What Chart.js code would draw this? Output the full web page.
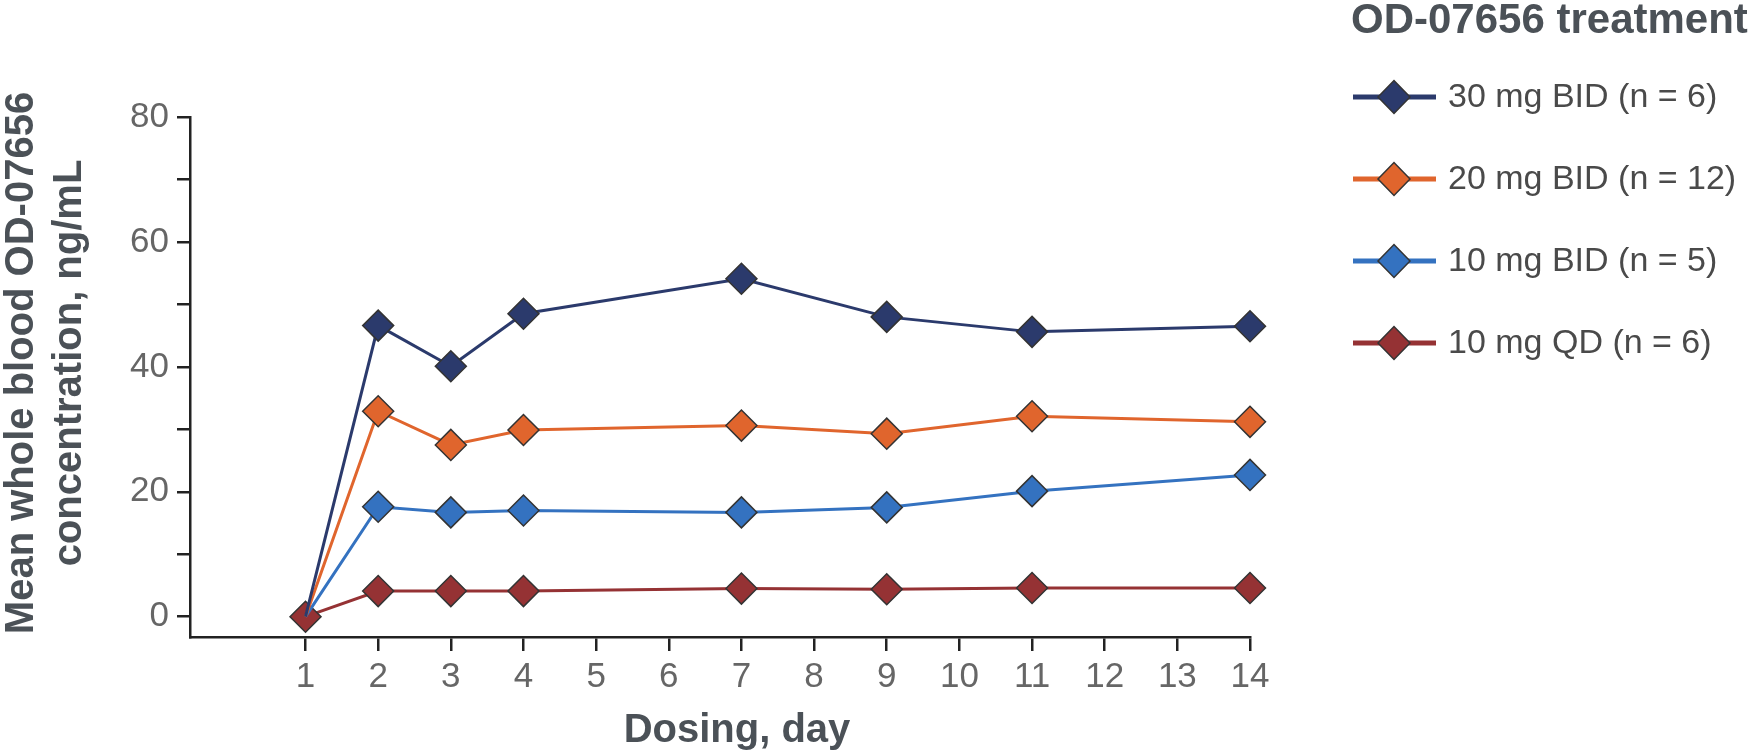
<!DOCTYPE html>
<html>
<head>
<meta charset="utf-8">
<script src="https://cdn.jsdelivr.net/npm/chart.js@4.4.1/dist/chart.umd.min.js"></script>
<style>
  html, body { margin: 0; padding: 0; background: #fff; }
</style>
</head>
<body>
<canvas id="pkChart" width="1750" height="753"></canvas>
<script>
// dosing days that were sampled
const days = [1, 2, 3, 4, 7, 9, 11, 14];
const xTicks = [1, 2, 3, 4, 5, 6, 7, 8, 9, 10, 11, 12, 13, 14];
const yTicks = [0, 10, 20, 30, 40, 50, 60, 70, 80];

// mean whole blood concentration, ng/mL
const bid30 = [0, 46.6, 40.1, 48.5, 54.1, 48.0, 45.6, 46.5];
const bid20 = [0, 32.9, 27.5, 29.9, 30.6, 29.3, 32.1, 31.2];
const bid10 = [0, 17.6, 16.7, 17.0, 16.7, 17.5, 20.1, 22.7];
const qd10 = [0, 4.1, 4.1, 4.1, 4.5, 4.4, 4.6, 4.6];

const seriesNames = ['30 mg BID (n = 6)', '20 mg BID (n = 12)', '10 mg BID (n = 5)', '10 mg QD (n = 6)'];
const seriesColors = ['#2b3a6c', '#e0652d', '#3472c0', '#953234'];
const seriesValues = [bid30, bid20, bid10, qd10];

const legendTitle = 'OD-07656 treatment';
const yTitle = ['Mean whole blood OD-07656', 'concentration, ng/mL'];
const xTitle = 'Dosing, day';

const FONT = '"Liberation Sans", Arial, sans-serif';
const AXIS_COLOR = '#222';
const TITLE_COLOR = '#4b5157';

const datasets = seriesValues.map((vals, i) => ({
  label: seriesNames[i],
  data: vals.map((v, j) => ({ x: days[j], y: v })),
  borderColor: seriesColors[i],
  backgroundColor: seriesColors[i],
  borderWidth: 3,
  pointStyle: 'rectRot',
  // only the QD marker shows at day 1, the other lines start under it
  pointRadius: vals.map((v, j) => (j === 0 && i < 3 ? 0 : 15.5)),
  pointHoverRadius: 15.5,
  pointBorderColor: '#333',
  pointBorderWidth: 1.5,
  pointBackgroundColor: seriesColors[i],
  tension: 0,
  clip: false
}));

// axis titles and legend are drawn by hand
const textPlugin = {
  id: 'textPlugin',
  afterDraw(chart) {
    const ctx = chart.ctx;
    ctx.save();
    ctx.fillStyle = TITLE_COLOR;
    ctx.textBaseline = 'alphabetic';

    // y axis title, two rotated lines
    ctx.font = 'bold 40px ' + FONT;
    ctx.textAlign = 'center';
    ctx.translate(0, 363);
    ctx.rotate(-Math.PI / 2);
    ctx.fillText(yTitle[0], 0, 33);
    ctx.fillText(yTitle[1], 0, 81);
    ctx.setTransform(1, 0, 0, 1, 0, 0);

    // x axis title
    ctx.fillText(xTitle, 737, 742);

    // legend
    ctx.textAlign = 'left';
    ctx.font = 'bold 42px ' + FONT;
    ctx.fillText(legendTitle, 1351, 33);

    const rowY = [97, 179, 261, 343];
    ctx.font = '34px ' + FONT;
    chart.data.datasets.forEach((ds, i) => {
      const y = rowY[i];
      ctx.strokeStyle = ds.borderColor;
      ctx.lineWidth = 5;
      ctx.beginPath();
      ctx.moveTo(1353, y);
      ctx.lineTo(1436, y);
      ctx.stroke();

      ctx.beginPath();
      ctx.moveTo(1378, y);
      ctx.lineTo(1394, y - 16.5);
      ctx.lineTo(1410, y);
      ctx.lineTo(1394, y + 16.5);
      ctx.closePath();
      ctx.fillStyle = ds.backgroundColor;
      ctx.fill();
      ctx.lineWidth = 1.5;
      ctx.strokeStyle = '#333';
      ctx.stroke();

      ctx.fillStyle = '#4a4a4a';
      ctx.textBaseline = 'middle';
      ctx.fillText(ds.label, 1448, y + 1);
    });
    ctx.restore();
  }
};

new Chart(document.getElementById('pkChart'), {
  type: 'line',
  data: { datasets },
  options: {
    responsive: false,
    animation: false,
    layout: { padding: { left: 0, top: 117, right: 500, bottom: 0 } },
    plugins: {
      legend: { display: false },
      tooltip: { enabled: false }
    },
    scales: {
      x: {
        type: 'linear',
        min: -0.59,
        max: 14,
        afterBuildTicks: (scale) => { scale.ticks = xTicks.map((v) => ({ value: v })); },
        afterFit: (scale) => { scale.height = 116; },
        grid: { drawOnChartArea: false, drawTicks: true, tickLength: 14, color: AXIS_COLOR, lineWidth: 2.5 },
        border: { display: true, color: AXIS_COLOR, width: 2.5 },
        ticks: { color: '#666', font: { family: FONT, size: 35 }, padding: 5, maxRotation: 0, autoSkip: false }
      },
      y: {
        min: -3.25,
        max: 80,
        afterBuildTicks: (scale) => { scale.ticks = yTicks.map((v) => ({ value: v })); },
        afterFit: (scale) => { scale.width = 190; },
        grid: { drawOnChartArea: false, drawTicks: true, tickLength: 13, color: AXIS_COLOR, lineWidth: 2.5 },
        border: { display: true, color: AXIS_COLOR, width: 2.5 },
        ticks: {
          color: '#666',
          font: { family: FONT, size: 35 },
          padding: 8,
          callback: (v) => (v % 20 === 0 ? v : '')
        }
      }
    }
  },
  plugins: [textPlugin]
});
</script>
</body>
</html>
